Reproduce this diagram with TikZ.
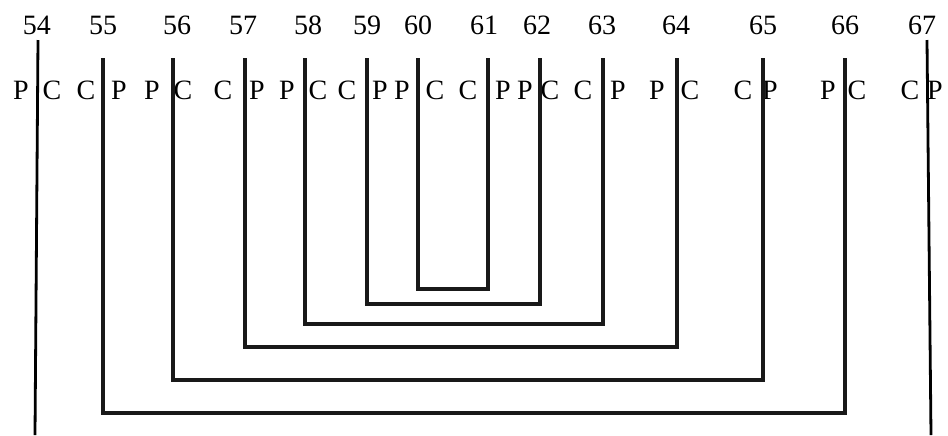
\documentclass[tikz,border=0pt]{standalone}
\usepackage{fontspec}
\setmainfont{Liberation Serif}
\usetikzlibrary{positioning}
\tikzset{
  lbl/.style={inner sep=0pt, font=\fontsize{14}{16}\selectfont},
  bracket/.style={line width=1.75pt, draw=black!90},
  outer/.style={line width=1.4pt, draw=black},
}
\begin{document}
\begin{tikzpicture}[x=0.5pt, y=-0.5pt]
  \useasboundingbox (0,0) rectangle (948,435);
  % numbers and P/C labels
  \foreach \n/\nx/\lx/\l/\rx/\r in {54/37/21/P/52/C, 55/103/86/C/119/P, 56/177/152/P/183/C,
      57/243/223/C/257/P, 58/308/287/P/318/C, 59/367/347/C/380/P, 60/418/402/P/435/C,
      61/484/468/C/503/P, 62/537/525/P/550/C, 63/602/583/C/618/P, 64/676/657/P/690/C,
      65/763/743/C/770/P, 66/845/828/P/857/C, 67/922/910/C/935/P} {
    \node[lbl] (num\n) at (\nx,25) {\n};
    \node[lbl] (l\n) at (\lx,90) {\l};
    \node[lbl] (r\n) at (\rx,90) {\r};
  }
  % tops of the strokes
  \foreach \n/\x in {55/103, 56/173, 57/245, 58/305, 59/367, 60/418,
      61/488, 62/540, 63/603, 64/677, 65/763, 66/845}
    \coordinate (top\n) at (\x,58);
  % outer strokes
  \coordinate (top54) at (38,40);  \coordinate (bot54) at (35,435);
  \coordinate (top67) at (927,40); \coordinate (bot67) at (931,435);
  \draw[outer] (top54) -- (bot54);
  \draw[outer] (top67) -- (bot67);
  % nested brackets
  \foreach \a/\b/\y in {55/66/413, 56/65/380, 57/64/347, 58/63/324, 59/62/304, 60/61/289} {
    \coordinate (bot\a) at (top\a |- 0,\y);
    \draw[bracket] (top\a) -- (bot\a) -| (top\b);
  }
\end{tikzpicture}
\end{document}
